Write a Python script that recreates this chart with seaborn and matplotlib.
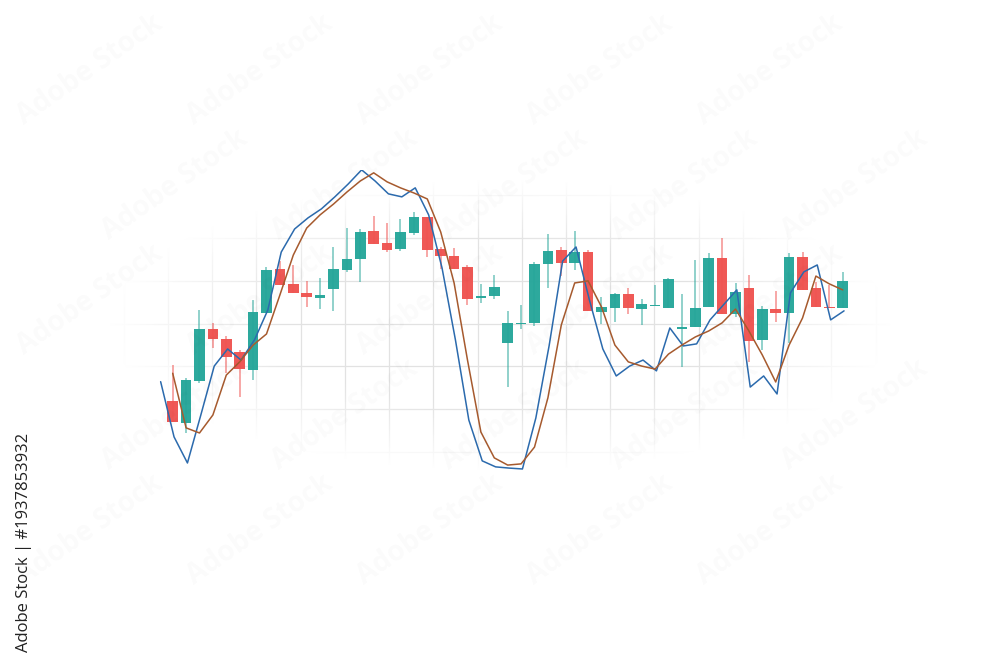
import numpy as np
import pandas as pd
import matplotlib.pyplot as plt
import seaborn as sns

# -----------------------------------------------------
# candles (price units)
# -----------------------------------------------------
opens = [11.93, 9.67, 13.90, 19.07, 18.07, 16.77, 15.00, 20.73, 25.07, 23.57,
         22.67, 22.23, 23.13, 25.00, 26.13, 28.93, 27.67, 27.07, 28.73, 30.33,
         27.07, 26.40, 25.27, 22.20, 22.40, 17.73, 19.60, 19.67, 25.60, 27.00,
         25.73, 26.83, 20.83, 21.23, 22.60, 21.13, 21.43, 21.23, 19.13, 19.33,
         21.27, 26.23, 20.60, 23.17, 18.00, 21.10, 20.73, 26.33, 23.17, 21.33,
         21.23]
highs = [15.50, 14.17, 21.00, 19.67, 18.40, 17.00, 22.00, 25.27, 25.90, 25.50,
         23.90, 24.17, 27.27, 29.23, 29.07, 30.40, 29.67, 30.07, 30.83, 30.33,
         27.27, 27.17, 25.50, 23.60, 24.53, 20.90, 21.50, 25.83, 28.57, 27.27,
         28.90, 27.00, 22.33, 22.73, 23.23, 22.07, 23.50, 24.17, 22.60, 26.00,
         26.67, 28.17, 23.73, 24.50, 21.40, 22.90, 26.67, 26.77, 23.83, 23.50,
         24.83]
lows = [9.77, 8.67, 13.73, 17.17, 14.67, 12.33, 14.00, 20.73, 23.50, 22.73,
        21.27, 21.10, 20.93, 24.77, 23.77, 27.60, 26.77, 26.90, 28.53, 26.33,
        25.07, 25.07, 21.50, 21.67, 22.13, 13.33, 19.07, 19.43, 23.17, 24.40,
        25.00, 20.93, 19.60, 19.77, 20.60, 19.53, 21.43, 21.23, 15.33, 19.33,
        21.27, 20.57, 20.33, 15.83, 17.00, 19.83, 17.67, 23.00, 21.27, 21.17,
        21.23]
closes = [9.77, 14.00, 19.07, 18.07, 16.33, 15.07, 20.83, 25.00, 23.50, 22.73,
          22.27, 22.53, 25.10, 26.10, 28.83, 27.60, 27.00, 28.83, 30.27, 27.00,
          26.40, 25.07, 22.10, 22.43, 23.30, 19.67, 19.73, 25.63, 26.90, 25.67,
          26.83, 20.93, 21.30, 22.60, 21.23, 21.60, 21.53, 24.07, 19.27, 21.17,
          26.23, 20.57, 22.77, 17.93, 21.07, 20.67, 26.33, 23.00, 21.27, 21.17,
          23.93]

# -----------------------------------------------------
# oscillator lines (0-100 scale)
# -----------------------------------------------------
fast_line = [29.1, 10.7, 2.0, 18.0, 34.3, 40.0, 36.3, 43.0, 53.0, 72.3,
             80.0, 83.7, 86.7, 90.7, 95.0, 99.7, 96.0, 91.7, 90.7, 93.7,
             84.7, 67.0, 43.0, 16.3, 2.7, 0.7, 0.3, 0.0, 17.0, 41.3,
             69.3, 74.0, 56.3, 40.0, 31.0, 34.3, 36.3, 32.7, 47.0, 41.0,
             41.7, 49.7, 54.7, 59.7, 27.3, 31.0, 25.0, 58.7, 65.7, 68.0,
             49.7, 52.7]
slow_line = [31.9, 13.7, 12.0, 18.0, 31.3, 35.7, 41.3, 45.0, 58.0, 71.3,
             80.3, 84.7, 88.3, 92.3, 96.0, 98.7, 95.7, 93.7, 92.0, 90.0,
             79.0, 62.0, 36.3, 12.3, 3.7, 1.3, 1.7, 7.3, 23.7, 48.0,
             62.0, 62.7, 54.0, 41.3, 35.7, 34.3, 33.3, 38.3, 41.3, 44.0,
             46.0, 48.7, 53.3, 46.0, 38.0, 29.0, 41.3, 50.3, 64.3, 61.7,
             59.7]

UP = "#26a69a"
DOWN = "#ef5350"
FAST_C = "#2b6aad"
SLOW_C = "#a65a2e"

df = pd.DataFrame({"open": opens, "high": highs, "low": lows, "close": closes})
df["idx"] = np.arange(len(df))
df["up"] = df["close"] >= df["open"]
df["color"] = np.where(df["up"], UP, DOWN)
df["bottom"] = df[["open", "close"]].min(axis=1)
df["height"] = (df["close"] - df["open"]).abs().clip(lower=0.1)

sns.set_theme(style="white")
plt.rcParams["font.family"] = ["Open Sans", "DejaVu Sans"]

fig = plt.figure(figsize=(10, 6.67), dpi=100)
fig.patch.set_facecolor("white")
ax = fig.add_axes([0.10, 0.2654, 0.80, 0.4798])
ax.set_facecolor("none")

# faint grid that fades out towards the edges
ax.set_xticks(np.arange(-3.65, 54, 3.3))
ax.set_yticks(np.arange(6.8, 35, 4.28))
ax.grid(True, color="#e2e2e2", linewidth=0.9)
ax.set_axisbelow(True)

H, W = 320, 800
yy, xx = np.mgrid[0:H, 0:W]
r = np.sqrt(((xx + 100 - 500) / 390.0) ** 2 + ((yy + 170 - 325) / 145.0) ** 2)
fade = np.zeros((H, W, 4))
fade[..., :3] = 1.0
fade[..., 3] = np.clip((r - 0.55) / 0.45, 0, 1)
ax.imshow(fade, extent=[0, 1, 0, 1], transform=ax.transAxes, aspect="auto",
          interpolation="bilinear", zorder=1)

# candles
ax.vlines(df["idx"], df["low"], df["high"], colors=df["color"],
          linewidth=1.3, alpha=0.55, zorder=2)
ax.bar(df["idx"], df["height"], bottom=df["bottom"], width=0.78,
       color=df["color"], linewidth=0, alpha=0.97, zorder=3)

ax.set_xlim(-5.425, 54.276)
ax.set_ylim(3.0, 35.0)
ax.set_autoscale_on(False)
ax.tick_params(length=0, labelleft=False, labelbottom=False)
for s in ax.spines.values():
    s.set_visible(False)

# oscillator on its own scale
ax2 = ax.twinx()
fast_x = np.arange(len(fast_line)) - 0.9
slow_x = np.arange(len(slow_line))
sns.lineplot(x=fast_x, y=fast_line, ax=ax2, color=FAST_C, linewidth=1.1,
             sort=False, zorder=4)
sns.lineplot(x=slow_x, y=slow_line, ax=ax2, color=SLOW_C, linewidth=1.1,
             sort=False, zorder=4)
ax2.set_ylim(-7.0, 99.67)
ax.set_xlim(-5.425, 54.276)
ax2.axis("off")

# stock watermark text (very faint), kept inside the picture
for row, y0 in enumerate(np.arange(70, 620, 115)):
    for x0 in np.arange(90 + (row % 2) * 85, 920, 170):
        fig.text(x0 / 1000, 1 - y0 / 667, "Adobe Stock", rotation=35,
                 fontsize=20, fontweight="bold", color="#000000", alpha=0.02,
                 ha="center", va="center")

fig.text(0.024, 1 - 542 / 667, "Adobe Stock | #1937853932", rotation=90,
         ha="center", va="center", fontsize=12, color="#222222")

fig.savefig("out.png", dpi=100)
plt.close(fig)
